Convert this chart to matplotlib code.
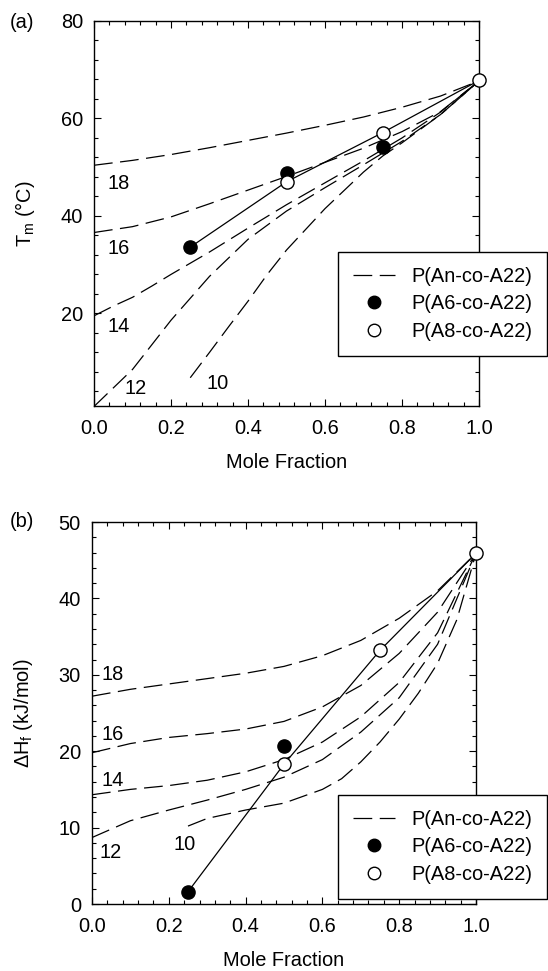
import matplotlib
matplotlib.use("Agg")
import matplotlib.pyplot as plt
from matplotlib.ticker import MultipleLocator, FormatStrFormatter
from matplotlib.lines import Line2D

plt.rcParams['font.family'] = ['Liberation Sans', 'DejaVu Sans']
plt.rcParams['mathtext.fontset'] = 'custom'
plt.rcParams['mathtext.rm'] = 'Liberation Sans'
plt.rcParams['mathtext.it'] = 'Liberation Sans:italic'
plt.rcParams['mathtext.default'] = 'regular'

# ---------------- Panel (a): Tm ----------------
tm_x_full = [0.0, 0.1, 0.2, 0.3, 0.4, 0.5, 0.6, 0.7, 0.8, 0.9, 1.0]
tm_18 = [50.4, 51.4, 52.6, 54.0, 55.5, 57.0, 58.6, 60.3, 62.3, 64.6, 67.7]
tm_16 = [36.6, 37.8, 39.8, 42.5, 45.3, 48.1, 51.0, 53.9, 57.3, 61.4, 67.7]
tm_14_x = [0.0, 0.05, 0.1, 0.15, 0.2, 0.25, 0.3, 0.4, 0.5, 0.6, 0.7, 0.8, 0.9, 1.0]
tm_14 = [19.5, 21.5, 23.3, 25.6, 28.0, 30.3, 32.6, 37.5, 42.3, 46.8, 51.3, 56.0, 61.3, 67.7]
tm_12 = [0.9, 8.5, 18.6, 27.6, 35.2, 41.0, 45.8, 50.5, 55.3, 60.8, 67.7]
tm_10_x = [0.25, 0.3, 0.35, 0.4, 0.45, 0.5, 0.6, 0.7, 0.75, 0.8, 0.9, 1.0]
tm_10 = [6.8, 12.0, 17.3, 22.5, 28.0, 33.0, 41.5, 49.0, 52.3, 55.0, 60.8, 67.7]

tm_a6_x = [0.25, 0.5, 0.75]
tm_a6 = [33.6, 48.9, 54.1]
tm_a8_x = [0.5, 0.75, 1.0]
tm_a8 = [47.0, 57.1, 67.8]
tm_line_x = [0.25, 0.5, 0.75, 1.0]
tm_line = [33.6, 47.0, 57.1, 67.8]

tm_labels = ['18', '16', '14', '12', '10']
tm_label_x = [0.065, 0.065, 0.065, 0.108, 0.321]
tm_label_y = [46.7, 33.3, 17.4, 4.6, 5.6]

# ---------------- Panel (b): dHf ----------------
hf_x_full = [0.0, 0.1, 0.2, 0.3, 0.4, 0.5, 0.6, 0.7, 0.8, 0.9, 1.0]
hf_18 = [27.2, 28.1, 28.8, 29.5, 30.2, 31.1, 32.5, 34.5, 37.4, 41.0, 45.9]
hf_16 = [19.8, 21.0, 21.8, 22.3, 22.9, 23.9, 25.8, 28.6, 32.8, 38.2, 45.9]
hf_14 = [14.3, 15.0, 15.5, 16.2, 17.3, 18.9, 21.2, 24.5, 29.0, 35.5, 45.9]
hf_12 = [8.7, 10.9, 12.3, 13.6, 15.0, 16.6, 18.9, 22.5, 27.0, 34.0, 45.9]
hf_10_x = [0.25, 0.3, 0.4, 0.5, 0.6, 0.65, 0.7, 0.75, 0.8, 0.85, 0.9, 0.95, 1.0]
hf_10 = [10.2, 11.2, 12.3, 13.2, 15.0, 16.4, 18.6, 21.2, 24.2, 27.6, 31.5, 37.2, 45.9]

hf_a6_x = [0.25, 0.5]
hf_a6 = [1.6, 20.7]
hf_a8_x = [0.5, 0.75, 1.0]
hf_a8 = [18.3, 33.2, 45.9]
hf_line_x = [0.25, 0.5, 0.75, 1.0]
hf_line = [1.6, 18.3, 33.2, 45.9]

hf_labels = ['18', '16', '14', '12', '10']
hf_label_x = [0.054, 0.054, 0.054, 0.049, 0.241]
hf_label_y = [30.1, 22.2, 16.1, 6.7, 7.8]

legend_labels = ['P(An-co-A22)', 'P(A6-co-A22)', 'P(A8-co-A22)']

W, H = 548, 971
fig = plt.figure(figsize=(W / 100, H / 100), dpi=100)

FS = 14.4
DASH = (0, (15, 6))
LW = 0.9
MS = 9.5


def style_axes(ax, ymaj, ymin):
    ax.set_xlim(0, 1)
    ax.xaxis.set_major_locator(MultipleLocator(0.2))
    ax.xaxis.set_minor_locator(MultipleLocator(0.04))
    ax.xaxis.set_major_formatter(FormatStrFormatter('%.1f'))
    ax.yaxis.set_major_locator(MultipleLocator(ymaj))
    ax.yaxis.set_minor_locator(MultipleLocator(ymin))
    ax.tick_params(which='both', direction='in', top=True, right=True,
                   labelsize=FS, width=0.8, color='black')
    ax.tick_params(which='major', length=5)
    ax.tick_params(which='minor', length=3)
    ax.tick_params(axis='y', which='major', pad=8)
    ax.tick_params(axis='x', which='major', pad=9)
    for s in ax.spines.values():
        s.set_linewidth(1.0)
    ax.set_xlabel('Mole Fraction', fontsize=FS, labelpad=11)


def draw(ax, curves, a6x, a6, a8x, a8, lx, ly, labs, labx, laby, legend_top):
    for cx, cy in curves:
        ax.plot(cx, cy, color='black', lw=LW, linestyle=DASH, zorder=2)
    ax.plot(lx, ly, color='black', lw=LW, zorder=2)
    ax.plot(a6x, a6, 'o', color='black', ms=MS, mec='black', zorder=4,
            clip_on=False)
    ax.plot(a8x, a8, 'o', color='white', ms=MS, mec='black', mew=1.0,
            zorder=5, clip_on=False)
    for t, x, y in zip(labs, labx, laby):
        ax.text(x, y, t, fontsize=FS, ha='center', va='center')
    handles = [Line2D([], [], color='black', lw=LW, linestyle=DASH),
               Line2D([], [], marker='o', color='black', ls='none', ms=MS - 0.5),
               Line2D([], [], marker='o', color='white', mec='black', ls='none', ms=MS - 0.5)]
    leg = ax.legend(handles, legend_labels, loc='upper right',
                    bbox_to_anchor=(547 / W, 1 - legend_top / H),
                    bbox_transform=fig.transFigure, borderaxespad=0,
                    fontsize=FS, frameon=True, fancybox=False, framealpha=1,
                    edgecolor='black', handlelength=2.1, handletextpad=0.8,
                    borderpad=0.75, labelspacing=0.42)
    leg.get_frame().set_linewidth(1.0)
    leg.set_zorder(10)


# Panel (a)
ax1 = fig.add_axes([94 / W, 1 - 406 / H, 385 / W, 385 / H])
style_axes(ax1, 20, 4)
ax1.set_ylim(1, 80)
draw(ax1,
     [(tm_x_full, tm_18), (tm_x_full, tm_16), (tm_14_x, tm_14),
      (tm_x_full, tm_12), (tm_10_x, tm_10)],
     tm_a6_x, tm_a6, tm_a8_x, tm_a8, tm_line_x, tm_line,
     tm_labels, tm_label_x, tm_label_y, 252)
ax1.set_ylabel('T$_{m}$ (°C)', fontsize=FS, labelpad=17)
fig.text(22 / W, 1 - 22 / H, '(a)', fontsize=FS, ha='center', va='center')

# Panel (b)
ax2 = fig.add_axes([92 / W, 1 - 904 / H, 384 / W, 382 / H])
style_axes(ax2, 10, 2)
ax2.set_ylim(0, 50)
draw(ax2,
     [(hf_x_full, hf_18), (hf_x_full, hf_16), (hf_x_full, hf_14),
      (hf_x_full, hf_12), (hf_10_x, hf_10)],
     hf_a6_x, hf_a6, hf_a8_x, hf_a8, hf_line_x, hf_line,
     hf_labels, hf_label_x, hf_label_y, 795)
ax2.set_ylabel('ΔH$_{f}$ (kJ/mol)', fontsize=FS, labelpad=17)
fig.text(22 / W, 1 - 521 / H, '(b)', fontsize=FS, ha='center', va='center')

fig.savefig('out.png', dpi=100)
